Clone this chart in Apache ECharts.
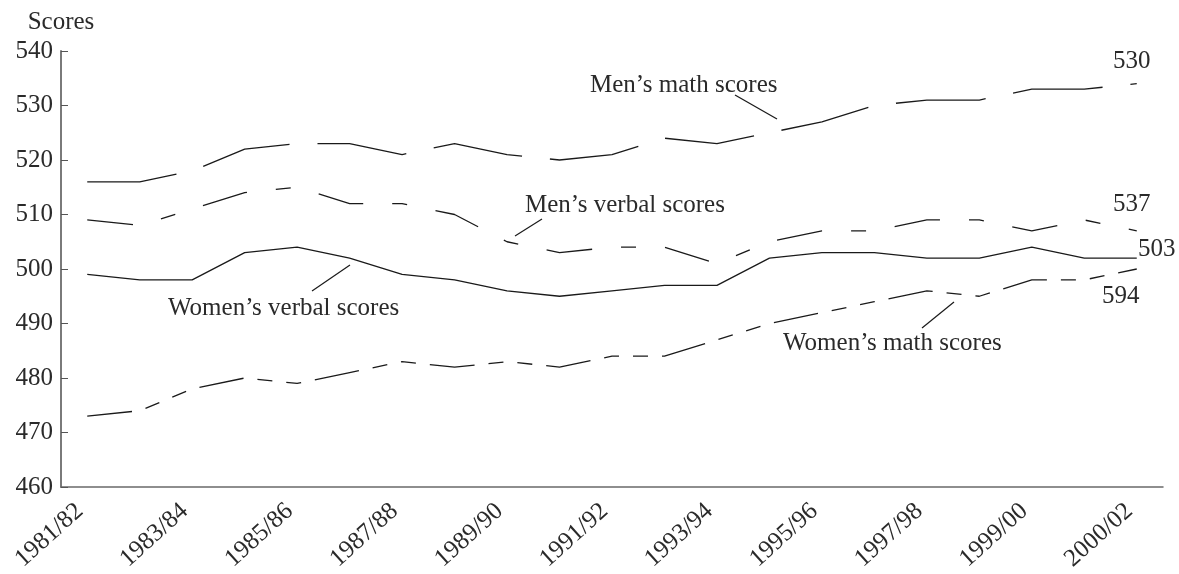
<!DOCTYPE html>
<html>
<head>
<meta charset="utf-8">
<script src="https://cdn.jsdelivr.net/npm/echarts@6/dist/echarts.min.js"></script>
<style>
html,body{margin:0;padding:0;background:#fff;}
#chart{width:1179px;height:574px;}
</style>
</head>
<body>
<div id="chart"></div>
<script>
const categories = ['1981/82','1982/83','1983/84','1984/85','1985/86','1986/87','1987/88','1988/89','1989/90','1990/91','1991/92','1992/93','1993/94','1994/95','1995/96','1996/97','1997/98','1998/99','1999/00','2000/01','2000/02'];
const mensMath     = [516,516,518,522,523,523,521,523,521,520,521,524,523,525,527,530,531,531,533,533,534];
const mensVerbal   = [509,508,511,514,515,512,512,510,505,503,504,504,501,505,507,507,509,509,507,509,507];
const womensVerbal = [499,498,498,503,504,502,499,498,496,495,496,497,497,502,503,503,502,502,504,502,502];
const womensMath   = [473,474,478,480,479,481,483,482,483,482,484,484,487,490,492,494,496,495,498,498,500];
const yTicks = {min:460, max:540, interval:10};
const annotations = [
  {text:"Men’s math scores", x:590, y:85},
  {text:"Men’s verbal scores", x:525, y:205},
  {text:"Women’s verbal scores", x:168, y:308},
  {text:"Women’s math scores", x:783, y:343},
  {text:"530", x:1113, y:61},
  {text:"537", x:1113, y:204},
  {text:"503", x:1138, y:249},
  {text:"594", x:1102, y:296}
];
const leaders = [
  [735,95,777,119],
  [542,219,515,236],
  [350,265,312,291],
  [954,302,922,328]
];

const FONT = '"Liberation Serif", "Times New Roman", serif';
const TXT = '#2a2a2a';
const LINE = '#1a1a1a';

const chart = echarts.init(document.getElementById('chart'));
const graphics = [];
annotations.forEach(a => graphics.push({
  type:'text', x:a.x, y:a.y, silent:true,
  style:{text:a.text, font:'25px ' + FONT, fill:TXT, align:'left', verticalAlign:'middle'}
}));
leaders.forEach(l => graphics.push({
  type:'line', silent:true,
  shape:{x1:l[0], y1:l[1], x2:l[2], y2:l[3]},
  style:{stroke:LINE, lineWidth:1.2}
}));

function mk(name, data, dash){
  return {
    name, type:'line', data, symbol:'none', smooth:false,
    lineStyle:{color:LINE, width:1.3, type:dash},
    emphasis:{disabled:true}
  };
}

chart.setOption({
  animation:false,
  backgroundColor:'#fff',
  grid:{left:61, right:16, top:51, bottom:87, containLabel:false},
  xAxis:{
    type:'category', data:categories, boundaryGap:true,
    axisLine:{lineStyle:{color:'#6a6a6a', width:1.5}},
    axisTick:{show:false},
    axisLabel:{interval:1, rotate:42, margin:14, padding:[0,10,0,0], color:TXT, fontFamily:FONT, fontSize:25}
  },
  yAxis:{
    type:'value', min:yTicks.min, max:yTicks.max, interval:yTicks.interval,
    name:'Scores', nameLocation:'end', nameGap:16,
    nameTextStyle:{color:TXT, fontFamily:FONT, fontSize:25, align:'center'},
    axisLine:{show:true, lineStyle:{color:'#7a7a7a', width:2}},
    axisTick:{show:true, inside:true, length:7, lineStyle:{color:'#555', width:1}},
    axisLabel:{margin:8, color:TXT, fontFamily:FONT, fontSize:25},
    splitLine:{show:false}
  },
  series:[
    mk("Men's math scores", mensMath, [90,28]),
    mk("Men's verbal scores", mensVerbal, [46,29,15,29]),
    mk("Women's verbal scores", womensVerbal, 'solid'),
    mk("Women's math scores", womensMath, [45,14,15,14,15,14])
  ],
  graphic:graphics
});
</script>
</body>
</html>
